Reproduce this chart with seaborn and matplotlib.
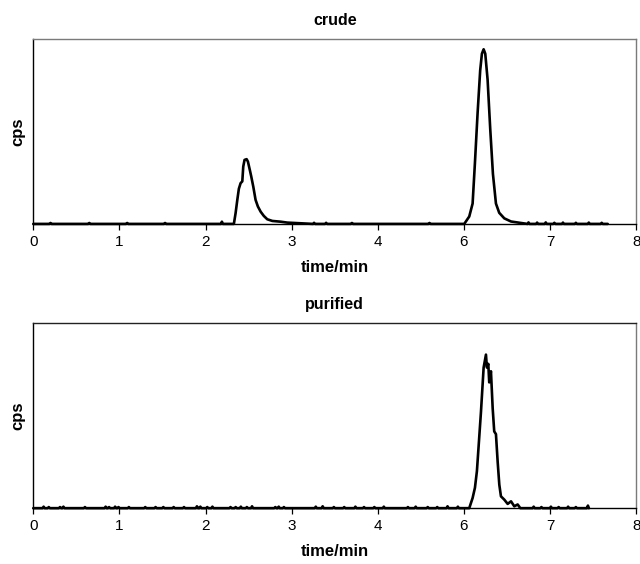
import numpy as np
import pandas as pd
import matplotlib
matplotlib.use("Agg")
import matplotlib.pyplot as plt
import seaborn as sns

# Eje x tal como aparece en la figura (la escala salta el 5)
tick_labels = ["0", "1", "2", "3", "4", "6", "7", "8"]

# Cromatograma "crude": dos picos (posición en el eje, intensidad relativa)
crude_peak1_x = [2.329, 2.349, 2.369, 2.387, 2.407, 2.427, 2.438, 2.453, 2.477, 2.492,
                 2.515, 2.531, 2.555, 2.581, 2.608, 2.640, 2.677, 2.717, 2.776, 2.872, 2.95]
crude_peak1_y = [0.0, 0.058, 0.13, 0.19, 0.22, 0.23, 0.31, 0.346, 0.35, 0.337,
                 0.29, 0.256, 0.20, 0.13, 0.094, 0.066, 0.043, 0.025, 0.016, 0.012, 0.007]
crude_peak2_x = [5.004, 5.062, 5.101, 5.128, 5.159, 5.189, 5.209, 5.229, 5.248, 5.275,
                 5.306, 5.337, 5.372, 5.41, 5.469, 5.547, 5.663]
crude_peak2_y = [0.0, 0.04, 0.11, 0.33, 0.60, 0.83, 0.92, 0.944, 0.92, 0.78,
                 0.51, 0.27, 0.11, 0.06, 0.03, 0.013, 0.005]
crude_noise_x = [0.2, 0.65, 1.09, 1.53, 2.19, 3.26, 3.40, 3.70, 4.60,
                 5.75, 5.85, 5.95, 6.05, 6.15, 6.3, 6.45, 6.6]
crude_noise_y = [0.005, 0.005, 0.005, 0.005, 0.012, 0.006, 0.006, 0.005, 0.005,
                 0.008, 0.007, 0.008, 0.006, 0.007, 0.006, 0.007, 0.006]
crude_range = [0.0, 6.67]

# Cromatograma "purified": un pico
pure_peak_x = [5.062, 5.101, 5.128, 5.151, 5.178, 5.198, 5.217, 5.229, 5.256, 5.267,
               5.283, 5.294, 5.314, 5.334, 5.352, 5.372, 5.392, 5.411, 5.430, 5.469,
               5.508, 5.547, 5.585, 5.624, 5.655]
pure_peak_y = [0.0, 0.055, 0.11, 0.20, 0.38, 0.52, 0.67, 0.76, 0.83, 0.76,
               0.78, 0.68, 0.74, 0.54, 0.415, 0.40, 0.25, 0.127, 0.064, 0.046,
               0.023, 0.037, 0.01, 0.02, 0.0]
pure_noise_x = [0.12, 0.18, 0.31, 0.35, 0.60, 0.84, 0.88, 0.95, 0.99, 1.11, 1.30, 1.42,
                1.51, 1.63, 1.75, 1.90, 1.94, 2.02, 2.08, 2.29, 2.35, 2.41, 2.48, 2.54,
                2.81, 2.85, 2.91, 3.28, 3.36, 3.49, 3.61, 3.74, 3.84, 3.96, 4.07, 4.35,
                4.44, 4.58, 4.69, 4.81, 4.93, 5.81, 5.9, 6.01, 6.1, 6.21, 6.3, 6.44]
pure_noise_y = [0.008, 0.006, 0.006, 0.008, 0.006, 0.008, 0.006, 0.008, 0.006, 0.006,
                0.006, 0.006, 0.006, 0.006, 0.006, 0.01, 0.008, 0.006, 0.008, 0.006,
                0.006, 0.008, 0.006, 0.01, 0.006, 0.008, 0.006, 0.008, 0.01, 0.006,
                0.006, 0.008, 0.006, 0.006, 0.008, 0.006, 0.008, 0.006, 0.006, 0.01,
                0.008, 0.008, 0.006, 0.008, 0.006, 0.008, 0.006, 0.014]
pure_range = [0.0, 6.45]


def build_trace(peaks, noise_x, noise_y, span):
    """Une picos y puntos de ruido sobre una línea base en cero."""
    xs, ys = [span[0], span[1]], [0.0, 0.0]
    for px, py in peaks:
        xs += list(px)
        ys += list(py)
    for nx, ny in zip(noise_x, noise_y):
        xs += [nx - 0.012, nx, nx + 0.012]
        ys += [0.0, ny, 0.0]
    df = pd.DataFrame({"pos": xs, "cps": ys}).sort_values("pos")
    return df.drop_duplicates("pos")


crude_df = build_trace([(crude_peak1_x, crude_peak1_y), (crude_peak2_x, crude_peak2_y)],
                       crude_noise_x, crude_noise_y, crude_range)
pure_df = build_trace([(pure_peak_x, pure_peak_y)], pure_noise_x, pure_noise_y, pure_range)

sns.set_style("white")
plt.rcParams["font.family"] = ["Liberation Sans", "DejaVu Sans"]
plt.rcParams["text.color"] = "black"
plt.rcParams["axes.labelcolor"] = "black"
plt.rcParams["xtick.color"] = "black"
plt.rcParams["xtick.labelcolor"] = "black"

fig = plt.figure(figsize=(6.4, 5.64), dpi=100)
ax_top = fig.add_axes([0.052, 0.603, 0.942, 0.328])
ax_bot = fig.add_axes([0.052, 0.099, 0.942, 0.328])

for ax, df, title, top_col in [(ax_top, crude_df, "crude", "#7a7a7a"),
                               (ax_bot, pure_df, "purified", "#222222")]:
    sns.lineplot(data=df, x="pos", y="cps", ax=ax, color="black", linewidth=1.9,
                 estimator=None, sort=False, clip_on=False)
    ax.set_xlim(0, 7)
    ax.set_ylim(0, 1)
    ax.set_xticks(range(len(tick_labels)))
    ax.set_xticklabels(tick_labels, fontsize=11)
    ax.set_yticks([])
    ax.tick_params(axis="x", direction="out", length=4, width=0.9, color="black",
                   labelcolor="black", bottom=True, pad=4)
    ax.set_title(title, fontsize=11.5, fontweight="bold", pad=10, color="black")
    ax.set_xlabel("time/min", fontsize=12, fontweight="bold", labelpad=8, color="black")
    ax.set_ylabel("cps", fontsize=12, fontweight="bold", labelpad=6, color="black")
    ax.spines["left"].set_color("black")
    ax.spines["bottom"].set_color("black")
    ax.spines["top"].set_color(top_col)
    ax.spines["right"].set_color("#7a7a7a")
    for s in ax.spines.values():
        s.set_linewidth(1.0)
        s.set_visible(True)

fig.savefig("out.png", dpi=100)
